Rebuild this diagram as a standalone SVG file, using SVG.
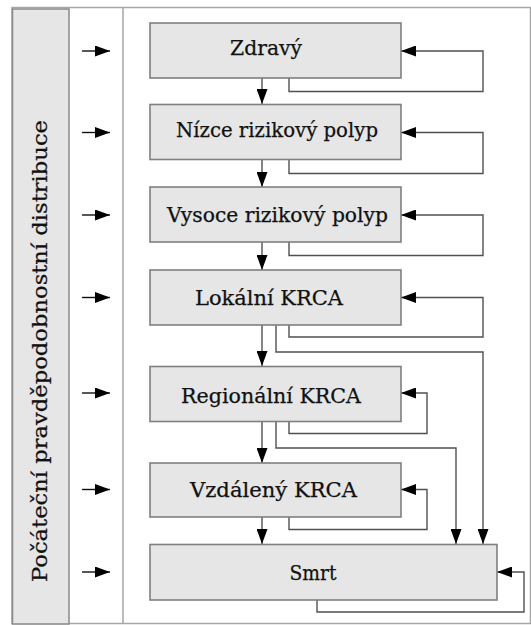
<svg xmlns="http://www.w3.org/2000/svg" width="531" height="625" viewBox="0 0 531 625">
<defs>
<style>
.frame{fill:none;stroke:#a6a6a6;stroke-width:1.5}
.lab{fill:#e6e6e6;stroke:#8a8a8a;stroke-width:1.5}
.node rect{fill:#e6e6e6;stroke:#7f7f7f;stroke-width:1.6}
.node text,.lt{font-family:"DejaVu Serif","Liberation Serif",serif;font-size:20.5px;fill:#111;stroke:#111;stroke-width:0.25}
.c{fill:none;stroke:#505050;stroke-width:1.4}
.k{fill:none;stroke:#111;stroke-width:1.4}
</style>
<marker id="ah" viewBox="0 0 15 11" refX="15" refY="5.5" markerWidth="15" markerHeight="11" markerUnits="userSpaceOnUse" orient="auto">
<path d="M0,0 L15,5.5 L0,11 z" fill="#000"/>
</marker>
</defs>
<rect width="531" height="625" fill="#fff"/>
<rect class="frame" x="12" y="7.5" width="518.5" height="616"/>
<g id="label">
<rect class="lab" x="12.5" y="9" width="56.5" height="615"/>
<text class="lt" transform="translate(47,351) rotate(-90)" text-anchor="middle" font-size="23" textLength="462" lengthAdjust="spacingAndGlyphs">Počáteční pravděpodobnostní distribuce</text>
</g>
<line class="frame" x1="123" y1="7.5" x2="123" y2="624"/>
<g id="connectors">
<path class="k" d="M82,51 H110" marker-end="url(#ah)"/>
<path class="k" d="M82,132.5 H110" marker-end="url(#ah)"/>
<path class="k" d="M82,215 H110" marker-end="url(#ah)"/>
<path class="k" d="M82,297.5 H110" marker-end="url(#ah)"/>
<path class="k" d="M82,393 H110" marker-end="url(#ah)"/>
<path class="k" d="M82,489.5 H110" marker-end="url(#ah)"/>
<path class="k" d="M82,572 H110" marker-end="url(#ah)"/>
<path class="c" d="M262,78 V104" marker-end="url(#ah)"/>
<path class="c" d="M262,159 V187" marker-end="url(#ah)"/>
<path class="c" d="M262,242 V270" marker-end="url(#ah)"/>
<path class="c" d="M262,325 V366" marker-end="url(#ah)"/>
<path class="c" d="M262,421 V463" marker-end="url(#ah)"/>
<path class="c" d="M262,517 V544" marker-end="url(#ah)"/>
<path class="c" d="M289,78 V91.5 H483 V51 H401" marker-end="url(#ah)"/>
<path class="c" d="M289,159 V173.5 H483 V132.5 H401" marker-end="url(#ah)"/>
<path class="c" d="M289,242 V255.5 H483 V215 H401" marker-end="url(#ah)"/>
<path class="c" d="M289,325 V337 H483 V297.5 H401" marker-end="url(#ah)"/>
<path class="c" d="M289,421 V433.5 H427 V393 H401" marker-end="url(#ah)"/>
<path class="c" d="M289,517 V529.5 H427 V489.5 H401" marker-end="url(#ah)"/>
<path class="c" d="M317,600 V612 H524 V572 H497" marker-end="url(#ah)"/>
<path class="c" d="M276,325 V352 H483 V544" marker-end="url(#ah)"/>
<path class="c" d="M276,421 V448 H456 V544" marker-end="url(#ah)"/>
</g>
<g id="zdravy" class="node"><rect x="150" y="23" width="251" height="55"/><text x="230" y="55" textLength="72" lengthAdjust="spacingAndGlyphs">Zdravý</text></g>
<g id="nizce" class="node"><rect x="150" y="104.5" width="251" height="55"/><text x="176" y="137" textLength="202" lengthAdjust="spacingAndGlyphs">Nízce rizikový polyp</text></g>
<g id="vysoce" class="node"><rect x="150" y="187" width="251" height="55"/><text x="167" y="221.5" textLength="221" lengthAdjust="spacingAndGlyphs">Vysoce rizikový polyp</text></g>
<g id="lokalni" class="node"><rect x="150" y="270" width="251" height="55"/><text x="195" y="305" textLength="148" lengthAdjust="spacingAndGlyphs">Lokální KRCA</text></g>
<g id="regionalni" class="node"><rect x="150" y="366.5" width="251" height="55"/><text x="181" y="403" textLength="180" lengthAdjust="spacingAndGlyphs">Regionální KRCA</text></g>
<g id="vzdaleny" class="node"><rect x="150" y="463" width="251" height="54"/><text x="190" y="497" textLength="167" lengthAdjust="spacingAndGlyphs">Vzdálený KRCA</text></g>
<g id="smrt" class="node"><rect x="150" y="544.5" width="347" height="55.5"/><text x="289.5" y="580" textLength="47" lengthAdjust="spacingAndGlyphs">Smrt</text></g>
</svg>
